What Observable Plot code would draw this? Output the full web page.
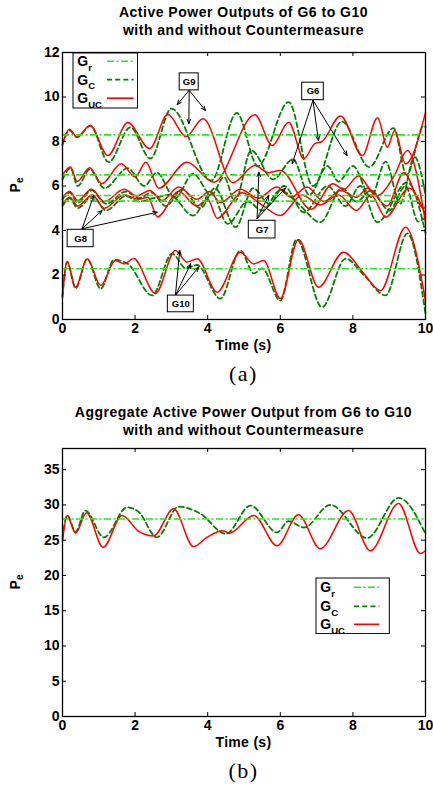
<!DOCTYPE html>
<html><head><meta charset="utf-8">
<script src="https://cdn.jsdelivr.net/npm/d3@7"></script>
<script src="https://cdn.jsdelivr.net/npm/@observablehq/plot@0.6"></script>
<style>
body{margin:0;background:#fff;}
#wrap{position:relative;width:433px;height:789px;font-family:"Liberation Sans",Arial,Helvetica,sans-serif;overflow:hidden;}
.abs{position:absolute;}
.title{left:62px;width:363px;text-align:center;font-weight:bold;font-size:14px;letter-spacing:0.5px;line-height:17.5px;z-index:2;white-space:nowrap;}
.xlab{left:62px;width:363px;text-align:center;font-weight:bold;font-size:14px;letter-spacing:0.3px;line-height:15px;z-index:2;}
.cap{left:62px;width:363px;text-align:center;font-family:"Liberation Serif","Times New Roman",serif;font-size:22px;line-height:24px;letter-spacing:1.5px;z-index:2;}
.ylab{font-weight:bold;font-size:14px;transform:translate(-50%,-50%) rotate(-90deg);z-index:2;white-space:nowrap;}
.ylab sub{font-size:10px;}
</style></head>
<body><div id="wrap"></div>
<script>
// ---------------- data ----------------
const xTicks = [0, 2, 4, 6, 8, 10];
const yTicksA = [0, 2, 4, 6, 8, 10, 12];
const yTicksB = [0, 5, 10, 15, 20, 25, 30, 35];
const legendNames = [["G", "r"], ["G", "C"], ["G", "UC"]];

// reference (Gr) levels of G9, G6, G7, G8, G10
const gens = ["G9", "G6", "G7", "G8", "G10"];
const refLevels = [8.3, 6.5, 5.57, 5.32, 2.28];

// uncontrolled (UC) and controlled (C) outputs, [time, Pe]
const g9UC = [[0,7.9],[0.19,8.55],[0.4,8.2],[0.76,8.72],[1.25,7.37],[1.8,8.85],[2.4,7.68],[2.9,9.22],[3.4,8.22],[3.87,9.02],[4.7,6.15],[5.3,6.92],[5.68,6.6],[6.0,6.7],[6.85,4.95],[7.45,6.1],[7.75,5.85],[8.15,6.45],[8.65,5.55],[9.15,6.5],[9.5,7.6],[10,4.35]];
const g9C  = [[0,7.85],[0.19,8.5],[0.4,8.2],[0.77,8.7],[1.27,7.07],[1.87,8.64],[2.42,7.23],[3.0,9.48],[4.1,6.25],[4.8,9.28],[5.38,6.9],[6.23,9.77],[6.9,6.0],[7.7,8.9],[8.45,6.85],[9.12,8.6],[9.48,6.5],[9.95,8.7],[10,8.65]];
const g6UC = [[0,6.5],[0.22,6.85],[0.4,6.2],[0.75,6.82],[1.08,6.1],[1.62,7.0],[2.0,6.4],[2.3,7.07],[2.65,5.9],[3.43,7.07],[4.17,6.17],[5.3,9.2],[5.78,7.82],[6.23,8.87],[6.65,7.23],[6.95,7.9],[7.15,8.0],[7.66,9.15],[8.26,7.37],[8.68,9.07],[8.95,7.74],[9.15,8.5],[9.45,7.0],[10,9.3]];
const g6C  = [[0,6.3],[0.22,6.8],[0.42,6.0],[0.75,6.75],[1.15,5.9],[1.8,6.8],[2.25,6.0],[2.6,6.6],[3.1,5.45],[3.6,6.55],[4.1,5.6],[4.45,6.4],[4.75,5.3],[5.2,7.6],[5.8,6.3],[6.35,7.2],[6.8,5.6],[7.3,6.9],[7.6,6.2],[8.0,6.9],[8.5,5.5],[8.9,7.1],[9.3,5.2],[9.7,7.3],[10,5.6]];
const g7UC = [[0,5.5],[0.2,5.75],[0.42,5.35],[0.8,5.85],[1.15,5.3],[1.7,5.85],[2.05,5.55],[2.4,5.8],[2.75,5.35],[3.2,5.95],[3.7,5.4],[4.05,5.75],[4.35,5.25],[4.9,5.85],[5.4,5.45],[5.9,5.95],[6.3,5.5],[6.74,5.95],[7.2,5.3],[7.66,5.8],[8.1,5.5],[8.4,5.9],[8.94,5.1],[9.4,6.6],[9.95,5.0],[10,5.05]];
const g7C  = [[0,5.4],[0.2,5.7],[0.42,5.25],[0.8,5.8],[1.2,5.2],[1.75,5.75],[2.1,5.45],[2.45,5.7],[2.85,5.1],[3.3,5.85],[3.8,5.0],[4.2,5.9],[4.77,4.15],[5.25,5.9],[5.7,5.2],[6.1,6.0],[6.65,4.82],[7.3,6.0],[7.8,5.1],[8.2,6.0],[8.67,4.37],[9.5,6.17],[10,3.9]];
const g8UC = [[0,5.2],[0.2,5.5],[0.42,5.1],[0.82,5.6],[1.15,5.0],[1.7,5.6],[2.1,5.4],[2.35,5.5],[2.62,4.62],[3.2,5.75],[3.7,5.1],[4.0,5.4],[4.26,4.55],[4.95,5.7],[5.45,5.2],[6.0,4.67],[6.6,5.6],[7.1,5.15],[7.6,5.6],[8.1,4.9],[8.5,5.6],[8.9,4.6],[9.55,5.9],[10,4.7]];
const g8C  = [[0,5.1],[0.2,5.45],[0.42,5.0],[0.82,5.55],[1.2,4.9],[1.75,5.55],[2.1,5.3],[2.5,5.45],[2.95,5.6],[3.6,4.67],[4.1,5.7],[4.55,4.3],[5.1,5.3],[5.5,4.9],[6.0,5.8],[6.5,5.2],[7.1,4.37],[7.7,5.9],[8.1,5.3],[8.5,5.8],[9.0,4.9],[9.45,6.0],[9.8,4.4],[10,4.6]];
const g10UC = [[0,1.1],[0.13,2.58],[0.36,1.45],[0.68,2.73],[1.05,1.53],[1.46,2.65],[1.7,2.5],[1.96,2.74],[2.56,1.17],[3.11,3.1],[3.43,2.58],[3.71,2.73],[4.26,1.23],[4.9,3.02],[5.27,2.5],[5.54,2.65],[6.0,0.94],[6.5,3.6],[7.05,1.45],[7.74,3.02],[8.3,2.07],[8.76,1.3],[9.45,4.15],[10,0.85]];
const g10C  = [[0,1.0],[0.13,2.6],[0.36,1.4],[0.68,2.72],[1.05,1.38],[1.42,2.68],[1.8,2.5],[2.47,1.08],[3.02,2.96],[3.4,2.3],[3.7,2.45],[4.35,0.94],[4.9,3.1],[5.27,2.07],[5.5,2.3],[6.0,0.85],[6.45,3.6],[7.15,0.55],[7.8,2.74],[8.3,2.0],[8.9,1.08],[9.5,3.87],[10,0.27]];

// aggregate output G6..G10
const aggRef = [28];
const aggUC = [[0,24.9],[0.13,28.5],[0.36,26.0],[0.66,28.9],[1.12,24.0],[1.64,28.5],[2.1,26.25],[2.51,25.6],[3.06,29.45],[3.61,24.1],[3.98,25.4],[4.4,26.35],[4.6,26.0],[5.27,28.5],[5.91,24.2],[6.5,28.6],[7.1,23.8],[7.88,29.2],[8.48,23.5],[9.26,30.2],[9.86,23.1],[10,23.5]];
const aggC  = [[0,25.3],[0.13,28.5],[0.36,26.2],[0.63,29.2],[1.14,25.4],[1.78,29.65],[2.1,29.0],[2.6,25.4],[3.2,29.75],[3.8,28.75],[4.5,25.9],[5.18,29.9],[5.91,26.1],[6.23,27.7],[6.65,26.8],[7.38,30.0],[8.39,25.3],[9.26,31.0],[10,25.9]];

// annotations (top chart)
const annLabels = ["G9", "G6", "G8", "G10", "G7"];
const annT = [3.49, 6.9, 0.5, 3.26, 5.5];
const annV = [10.68, 10.25, 3.64, 0.7, 4.04];
const arrowGen  = ["G9","G9","G9","G6","G6","G6","G8","G8","G8","G10","G10","G10","G7","G7","G7"];
const arrowFromT = [3.49,3.49,3.49,6.9,6.9,6.9,0.54,0.54,0.54,3.11,3.11,3.11,5.36,5.36,5.36];
const arrowFromV = [10.3,10.3,10.3,9.85,9.85,9.85,4.08,4.08,4.08,1.08,1.08,1.08,4.53,4.53,4.53];
const arrowToT = [3.16,3.48,3.94,6.33,7.05,7.84,0.86,1.09,2.61,3.23,3.53,3.75,5.41,5.68,6.14];
const arrowToV = [9.66,8.8,9.39,7.01,8.04,7.37,5.57,4.9,4.82,3.1,2.5,2.35,6.62,5.57,5.9];

// ---------------- styles ----------------
const RED = "#ff0000", DKG = "#008000", LTG = "#22e622";
const refDash = "7,2.5,2,2.5", cDash = "5,3.2";
const boxPx = {G9:[19,17], G6:[21.6,17.5], G8:[26,17.4], G10:[26,16.7], G7:[26.7,17.7]};
const W = 433, ML = 62, MR = 8, MT = 7, MB = 26;
const innerW = W - ML - MR;
const FONT = "Liberation Sans, Arial, Helvetica, sans-serif";

const wrap = document.getElementById("wrap");
function add(html, cls, style) {
  const d = document.createElement("div");
  d.className = "abs " + cls; d.innerHTML = html; Object.assign(d.style, style);
  wrap.appendChild(d); return d;
}
const toRows = (pairs, s) => pairs.map(([t, v]) => ({t, v, s}));

function chart({innerH, yDomain, yTicks, refs, cRows, ucRows, extra = []}) {
  const H = MT + innerH + MB;
  return Plot.plot({
    width: W, height: H, marginLeft: ML, marginRight: MR, marginTop: MT, marginBottom: MB,
    style: {fontFamily: FONT, fontSize: "14px", fontWeight: "bold", background: "none", color: "black", overflow: "visible"},
    x: {domain: [0, 10]},
    y: {domain: yDomain},
    marks: [
      Plot.line(cRows, {x: "t", y: "v", z: "s", stroke: DKG, strokeWidth: 1.8, strokeDasharray: cDash, curve: "monotone-x"}),
      Plot.line(ucRows, {x: "t", y: "v", z: "s", stroke: RED, strokeWidth: 1.5, curve: "monotone-x"}),
      Plot.ruleY(refs, {stroke: LTG, strokeWidth: 1.6, strokeDasharray: refDash}),
      ...extra,
      Plot.tickX(xTicks, {x: d => d, stroke: "black", insetTop: innerH - 4}),
      Plot.tickX(xTicks, {x: d => d, stroke: "black", insetBottom: innerH - 4}),
      Plot.tickY(yTicks, {y: d => d, stroke: "black", insetRight: innerW - 4}),
      Plot.tickY(yTicks, {y: d => d, stroke: "black", insetLeft: innerW - 4}),
      Plot.axisX({ticks: xTicks, tickSize: 0, tickPadding: 4, label: null, fontSize: 14, fontWeight: "bold"}),
      Plot.axisY({ticks: yTicks, tickSize: 0, tickPadding: 3, label: null, fontSize: 14, fontWeight: "bold"}),
      Plot.frame({stroke: "black", strokeWidth: 1.3})
    ]
  });
}

// ---- top chart ----
const innerHA = 267;
const pxX = innerW / 10, pxYA = innerHA / 12;
const boxes = annLabels.map((label, i) => ({label, t: annT[i], v: annV[i]}));
const arrows = arrowGen.map((g, i) => ({g, t1: arrowFromT[i], v1: arrowFromV[i], t2: arrowToT[i], v2: arrowToV[i]}));
const topC = [].concat(toRows(g9C,"G9"), toRows(g6C,"G6"), toRows(g7C,"G7"), toRows(g8C,"G8"), toRows(g10C,"G10"));
const topUC = [].concat(toRows(g9UC,"G9"), toRows(g6UC,"G6"), toRows(g7UC,"G7"), toRows(g8UC,"G8"), toRows(g10UC,"G10"));
const annMarks = [
  Plot.arrow(arrows, {x1: "t1", y1: "v1", x2: "t2", y2: "v2", stroke: "black", strokeWidth: 1, headLength: 7, headAngle: 45}),
  Plot.rect(boxes, {
    x1: d => d.t - boxPx[d.label][0] / 2 / pxX, x2: d => d.t + boxPx[d.label][0] / 2 / pxX,
    y1: d => d.v - boxPx[d.label][1] / 2 / pxYA, y2: d => d.v + boxPx[d.label][1] / 2 / pxYA,
    fill: "white", stroke: "black", strokeWidth: 1}),
  Plot.text(boxes, {x: "t", y: "v", text: "label", fontSize: 9.5, fontWeight: "bold", fill: "black"})
];
const svgA = chart({innerH: innerHA, yDomain: [0, 12], yTicks: yTicksA, refs: refLevels, cRows: topC, ucRows: topUC, extra: annMarks});
svgA.style.position = "absolute"; svgA.style.left = "0px"; svgA.style.top = "45px";
wrap.appendChild(svgA);

// ---- bottom chart ----
const svgB = chart({innerH: 268, yDomain: [0, 38], yTicks: yTicksB, refs: aggRef, cRows: toRows(aggC, "agg"), ucRows: toRows(aggUC, "agg")});
svgB.style.position = "absolute"; svgB.style.left = "0px"; svgB.style.top = "441px";
wrap.appendChild(svgB);

// ---- texts ----
add("Active Power Outputs of G6 to G10<br>with and without Countermeasure", "title", {top: "4px"});
add("Aggregate Active Power Output from G6 to G10<br>with and without Countermeasure", "title", {top: "404px"});
add("Time (s)", "xlab", {top: "338px"});
add("Time (s)", "xlab", {top: "735px"});
add("(a)", "cap", {top: "362px"});
add("(b)", "cap", {top: "759px"});
add("P<sub>e</sub>", "ylab", {left: "16px", top: "185px"});
add("P<sub>e</sub>", "ylab", {left: "16px", top: "582px"});

// ---- legends ----
function legend(left, top, w, h, rowY, lineX1, lineX2) {
  const svg = d3.create("svg").attr("width", w + 2).attr("height", h + 2)
    .style("position", "absolute").style("left", (left - 1) + "px").style("top", (top - 1) + "px").style("z-index", 3);
  const g = svg.append("g").attr("transform", "translate(1,1)");
  g.append("rect").attr("width", w).attr("height", h).attr("fill", "white").attr("stroke", "black").attr("stroke-width", 1);
  const styles = [[LTG, refDash, 1.6], [DKG, cDash, 1.8], [RED, null, 1.6]];
  legendNames.forEach(([main, sub], i) => {
    const y = rowY[i];
    const t = g.append("text").attr("x", 4.3).attr("y", y + 4.8)
      .attr("font-family", FONT).attr("font-weight", "bold").attr("font-size", 14);
    t.append("tspan").text(main);
    t.append("tspan").attr("font-size", 9.5).attr("dy", 4.5).text(sub);
    const [c, dash, sw] = styles[i];
    const ln = g.append("line").attr("x1", lineX1).attr("x2", lineX2).attr("y1", y).attr("y2", y)
      .attr("stroke", c).attr("stroke-width", sw);
    if (dash) ln.attr("stroke-dasharray", dash);
  });
  wrap.appendChild(svg.node());
}
legend(72.7, 53.3, 64.6, 55, [8.3, 26.7, 45.2], 34, 60.6);
legend(316, 577.7, 73.3, 55.6, [9.3, 28.3, 46.3], 38, 63.3);
</script>
</body></html>
